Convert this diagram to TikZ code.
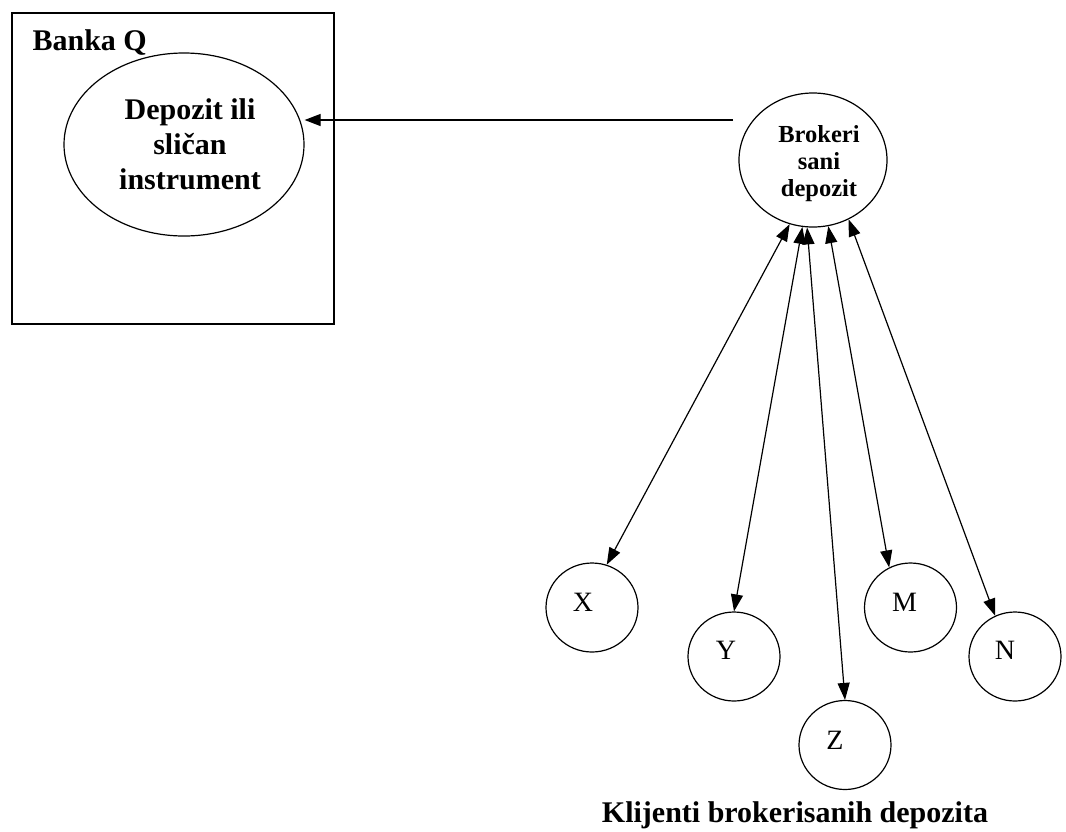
\documentclass[tikz,border=0pt]{standalone}
\usepackage{fontspec}
\setmainfont{Liberation Serif}
\usetikzlibrary{shapes.geometric,arrows.meta}
\begin{document}
\begin{tikzpicture}[x=1pt,y=1pt,
  line width=1.2pt,
  oval/.style={draw,ellipse,inner sep=0pt,align=center},
  client/.style={draw,ellipse,inner sep=0pt,minimum width=92pt,minimum height=89pt},
  clabel/.style={font=\fontsize{28}{32}\selectfont},
  big/.style={font=\bfseries\fontsize{30}{35}\selectfont},
  tip/.style={-{Triangle[length=16pt,width=12pt]}},
  dtip/.style={{Triangle[length=17pt,width=12pt]}-{Triangle[length=17pt,width=12pt]}}]
\useasboundingbox (0,0) rectangle (1066,-831);
% Bank box
\node[draw,minimum width=322pt,minimum height=311pt,inner sep=0pt] (bankbox) at (173,-168.5) {};
\node[big,anchor=base west,inner sep=0pt] (bankname) at (32,-50) {Banka Q};
\node[oval,big,minimum width=240pt,minimum height=183pt] (deposit) at (184,-144.5)
  {\hspace*{12pt}Depozit ili\\\hspace*{12pt}sličan\\\hspace*{12pt}instrument};
% Broker
\node[oval,minimum width=148pt,minimum height=134pt,
  label={[align=center,inner sep=0pt,font=\bfseries\fontsize{24.5}{27}\selectfont,shift={(6pt,-4pt)}]center:Brokeri\\sani\\depozit}] (broker) at (813,-160) {};
\coordinate (hstart) at (733,-120);
\draw[tip] (hstart) -- (hstart -| deposit.east);
% Clients
\node[client,label={[clabel,shift={(-9pt,5pt)}]center:X}] (X) at (592,-607.5) {};
\node[client,label={[clabel,shift={(-8pt,6pt)}]center:Y}] (Y) at (734,-656.5) {};
\node[client,label={[clabel,shift={(-10pt,5pt)}]center:Z}] (Z) at (845,-745) {};
\node[client,label={[clabel,shift={(-6pt,5pt)}]center:M}] (M) at (910.5,-607.5) {};
\node[client,label={[clabel,shift={(-10pt,6pt)}]center:N}] (N) at (1015,-656.5) {};
\draw[dtip] (broker.-110.5) -- (X.71.7);
\draw[dtip] (broker.-99.8) -- (Y.90);
\draw[dtip] (broker.-95.3) -- (Z.90);
\draw[dtip] (broker.-77.2) -- (M.118);
\draw[dtip] (broker.-59) -- (N.116);
\node[big,anchor=base,inner sep=0pt] (klijenti) at (795,-822) {Klijenti brokerisanih depozita};
\end{tikzpicture}
\end{document}
